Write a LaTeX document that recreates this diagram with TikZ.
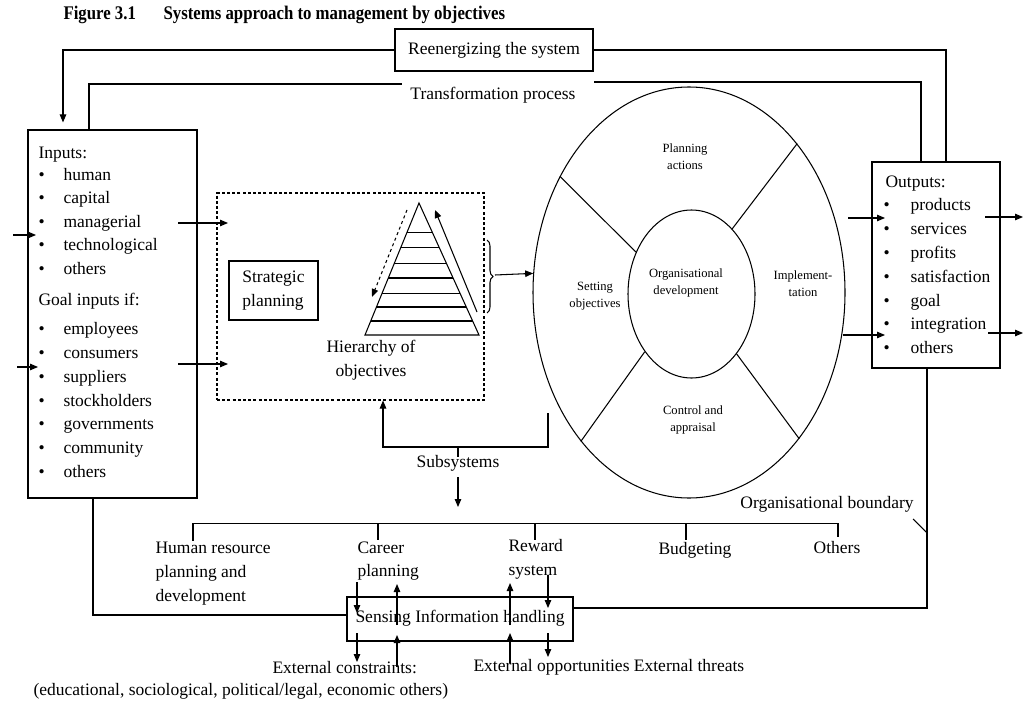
\documentclass[tikz,border=0pt]{standalone}
\usepackage{fontspec}
\setmainfont{Liberation Serif}
\newfontfamily\titlefont[FakeStretch=0.87]{Liberation Serif}
\usetikzlibrary{arrows.meta,shapes.geometric,decorations.pathreplacing,calc}

\begin{document}
\begin{tikzpicture}[x=1pt,y=-1pt,
  line width=1.05pt,
  tip/.style={-{Triangle[length=8pt,width=6.5pt]}},
  frame/.style={draw,rectangle,inner sep=0pt},
  body/.style={font=\fontsize{17.5}{23.6}\selectfont,inner sep=0pt},
  small/.style={font=\fontsize{12.6}{17}\selectfont,inner sep=0pt,align=center},
  ttl/.style={font=\fontsize{19.3}{22}\titlefont\bfseries,inner sep=0pt,anchor=base west},
]
\useasboundingbox (0,0) rectangle (1027,706);

% ---------- title ----------
\node[ttl] (fig) at (63,20) {Figure 3.1};
\node[ttl] (title) at (163,20) {Systems approach to management by objectives};

% ---------- main boxes ----------
\node[frame,minimum width=169pt,minimum height=368pt] (inputs) at (112.5,314) {};
\node[frame,minimum width=128pt,minimum height=206pt] (outputs) at (936,265) {};
\node[frame,body,minimum width=198pt,minimum height=42pt] (reen) at (494,50) {Reenergizing the system};
\node[draw,dash pattern=on 3pt off 2.2pt,rectangle,inner sep=0pt,minimum width=267pt,minimum height=207pt] (plan) at (350.5,296.5) {};
\node[frame,body,align=left,minimum width=89pt,minimum height=59pt] (strat) at (273.5,290.5) {Strategic\\planning};
\node[frame,body,minimum width=226pt,minimum height=44pt] (sense) at (460,619) {};
\node[body,anchor=base] (sensetxt) at (460,622) {Sensing Information handling};

% ---------- inputs list ----------
\node[body,anchor=base west] (inhead) at (38,158) {Inputs:};
\foreach \y/\t [count=\i] in {180/human,203.5/capital,227/managerial,250.5/technological,274/others}{
  \node[body,anchor=base west] (inb\i) at (38,\y) {\textbullet};
  \node[body,anchor=base west] (ini\i) at (63,\y) {\t};
}
\node[body,anchor=base west] (goalhead) at (38,305) {Goal inputs if:};
\foreach \y/\t [count=\i] in {334/employees,358/consumers,382/suppliers,406/stockholders,429/governments,453/community,477/others}{
  \node[body,anchor=base west] (gb\i) at (38,\y) {\textbullet};
  \node[body,anchor=base west] (gi\i) at (63,\y) {\t};
}

% ---------- outputs list ----------
\node[body,anchor=base west] (outhead) at (885,187) {Outputs:};
\foreach \y/\t [count=\i] in {210/products,234/services,258/profits,282/satisfaction,306/goal,329/integration,353/others}{
  \node[body,anchor=base west] (ob\i) at (883,\y) {\textbullet};
  \node[body,anchor=base west] (oi\i) at (910,\y) {\t};
}

% ---------- feedback loops ----------
\coordinate (cA) at (63,0);
\coordinate (cB) at (89,0);
\coordinate (cC) at (921,0);
\coordinate (cD) at (946,0);
\draw[tip] (reen.west) -| ($(inputs.north -| cA)+(0,-7)$);
\draw (reen.east) -| (outputs.north -| cD);
\node[body,anchor=base] (trans) at (493,100) {Transformation process};
\coordinate (trL) at (402,84);
\coordinate (trR) at (594,82);
\draw (inputs.north -| cB) |- (trL);
\draw (trR) -| (outputs.north -| cC);

% ---------- arrows into and out of the boxes ----------
\coordinate (inA) at (13,235);   \coordinate (inAe) at (36,235);
\coordinate (inB) at (17,367);   \coordinate (inBe) at (38,367);
\draw[tip] (inA) -- (inAe);
\draw[tip] (inB) -- (inBe);
\coordinate (pA) at (178,223);   \coordinate (pAe) at (228,223);
\coordinate (pB) at (178,364);   \coordinate (pBe) at (228,364);
\draw[tip] (pA) -- (pAe);
\draw[tip] (pB) -- (pBe);
\coordinate (oA) at (848,218);   \coordinate (oAe) at (885,218);
\coordinate (oB) at (843,335);   \coordinate (oBe) at (885,335);
\draw[tip] (oA) -- (oAe);
\draw[tip] (oB) -- (oBe);
\coordinate (xA) at (985,217);   \coordinate (xAe) at (1023,217);
\coordinate (xB) at (988,333);   \coordinate (xBe) at (1023,333);
\draw[tip] (xA) -- (xAe);
\draw[tip] (xB) -- (xBe);

% ---------- hierarchy of objectives ----------
\coordinate (apex) at (419,203);
\coordinate (bl) at (365,335);
\coordinate (br) at (479,335);
\draw[line join=miter] (apex) -- (bl) -- (br) -- cycle;
\foreach \t in {0.22,0.34,0.455,0.568,0.682,0.788,0.894}
  \draw ($(apex)!\t!(bl)$) -- ($(apex)!\t!(br)$);
\coordinate (dnS) at (407,210); \coordinate (dnE) at (372,297);
\draw[tip,dashed] (dnS) -- (dnE);
\coordinate (upS) at (477,312); \coordinate (upE) at (435,210);
\draw[tip] (upS) -- (upE);
\node[body,align=center] (hier) at (371,360) {Hierarchy of\\objectives};

% ---------- MBO cycle ----------
\node[draw,ellipse,inner sep=0pt,minimum width=312pt,minimum height=411pt] (outer) at (689,292.5) {};
\node[draw,ellipse,inner sep=0pt,minimum width=127pt,minimum height=168pt] (inner) at (691.5,294) {};
\draw (outer.138.9) -- (inner.143.4);
\draw (outer.54) -- (inner.58.2);
\draw (outer.234.5) -- (inner.231.8);
\draw (outer.307) -- (inner.307.3);
\node[small] (pa) at (685,157) {Planning\\actions};
\node[small] (so) at (595,296.5) {Setting\\objectives};
\node[small] (od) at (686,282.5) {Organisational\\development};
\node[small] (im) at (803,283.5) {Implement-\\tation};
\node[small] (ca) at (693,420) {Control and\\appraisal};

% brace from the planning box into the cycle
\draw[decorate,decoration={brace,amplitude=6pt}] (487,240) -- (487,313);
\coordinate (brt) at (495,275);
\draw[tip] (brt) -- (outer.173.6);

% ---------- subsystems ----------
\coordinate (sbR) at (548,413);
\coordinate (sbL) at (383,447);
\draw[tip] (sbR) |- (sbL) -- (plan.south -| sbL);
\coordinate (sbM) at (458,447);
\draw (sbM) -- ++(0,10);
\node[body,anchor=base] (subs) at (458,467) {Subsystems};
\coordinate (sdS) at (458,477); \coordinate (sdE) at (458,507);
\draw[tip] (sdS) -- (sdE);

\coordinate (brL) at (193,523.5);
\coordinate (brRt) at (838,523.5);
\draw (brL) ++(0,17) -- (brL) -- (brRt) -- ++(0,13);
\foreach \x in {378,535,686} \draw (\x,523.5) -- ++(0,16);

\node[body,align=left,anchor=north west] (hr) at (155,542) {Human resource\\planning and\\development};
\node[body,align=left,anchor=north west] (cp) at (357,541) {Career\\planning};
\node[body,align=left,anchor=north west] (rs) at (508,539) {Reward\\system};
\node[body,anchor=base] (bud) at (695,554) {Budgeting};
\node[body,anchor=base] (oth) at (837,553) {Others};

% ---------- organisational boundary ----------
\node[body,anchor=base] (ob) at (827,508) {Organisational boundary};
\coordinate (bR) at (927,608);
\coordinate (bL) at (93,615);
\draw (outputs.south -| bR) -- (bR) -- (bR -| sense.east);
\draw (inputs.south -| bL) -- (bL) -- (bL -| sense.west);
\coordinate (tk1) at (913,519); \coordinate (tk2) at (927,533);
\draw (tk1) -- (tk2);

% ---------- sensing arrows ----------
\draw[tip] (357,582) -- (357,613);
\draw[tip] (397,625) -- (397,584);
\draw[tip] (510,625) -- (510,583);
\draw[tip] (548,575) -- (548,608);
\draw[tip] (357,633) -- (357,662);
\draw[tip] (397,667) -- (397,635);
\draw[tip] (510,663) -- (510,633);
\draw[tip] (548,633) -- (548,657);

% ---------- environment ----------
\node[body,anchor=base west] (ec) at (272,673) {External constraints:};
\node[body,anchor=base west] (ecl) at (33,695) {(educational, sociological, political/legal, economic others)};
\node[body,anchor=base west] (eo) at (473,671) {External opportunities External threats};

\end{tikzpicture}
\end{document}
